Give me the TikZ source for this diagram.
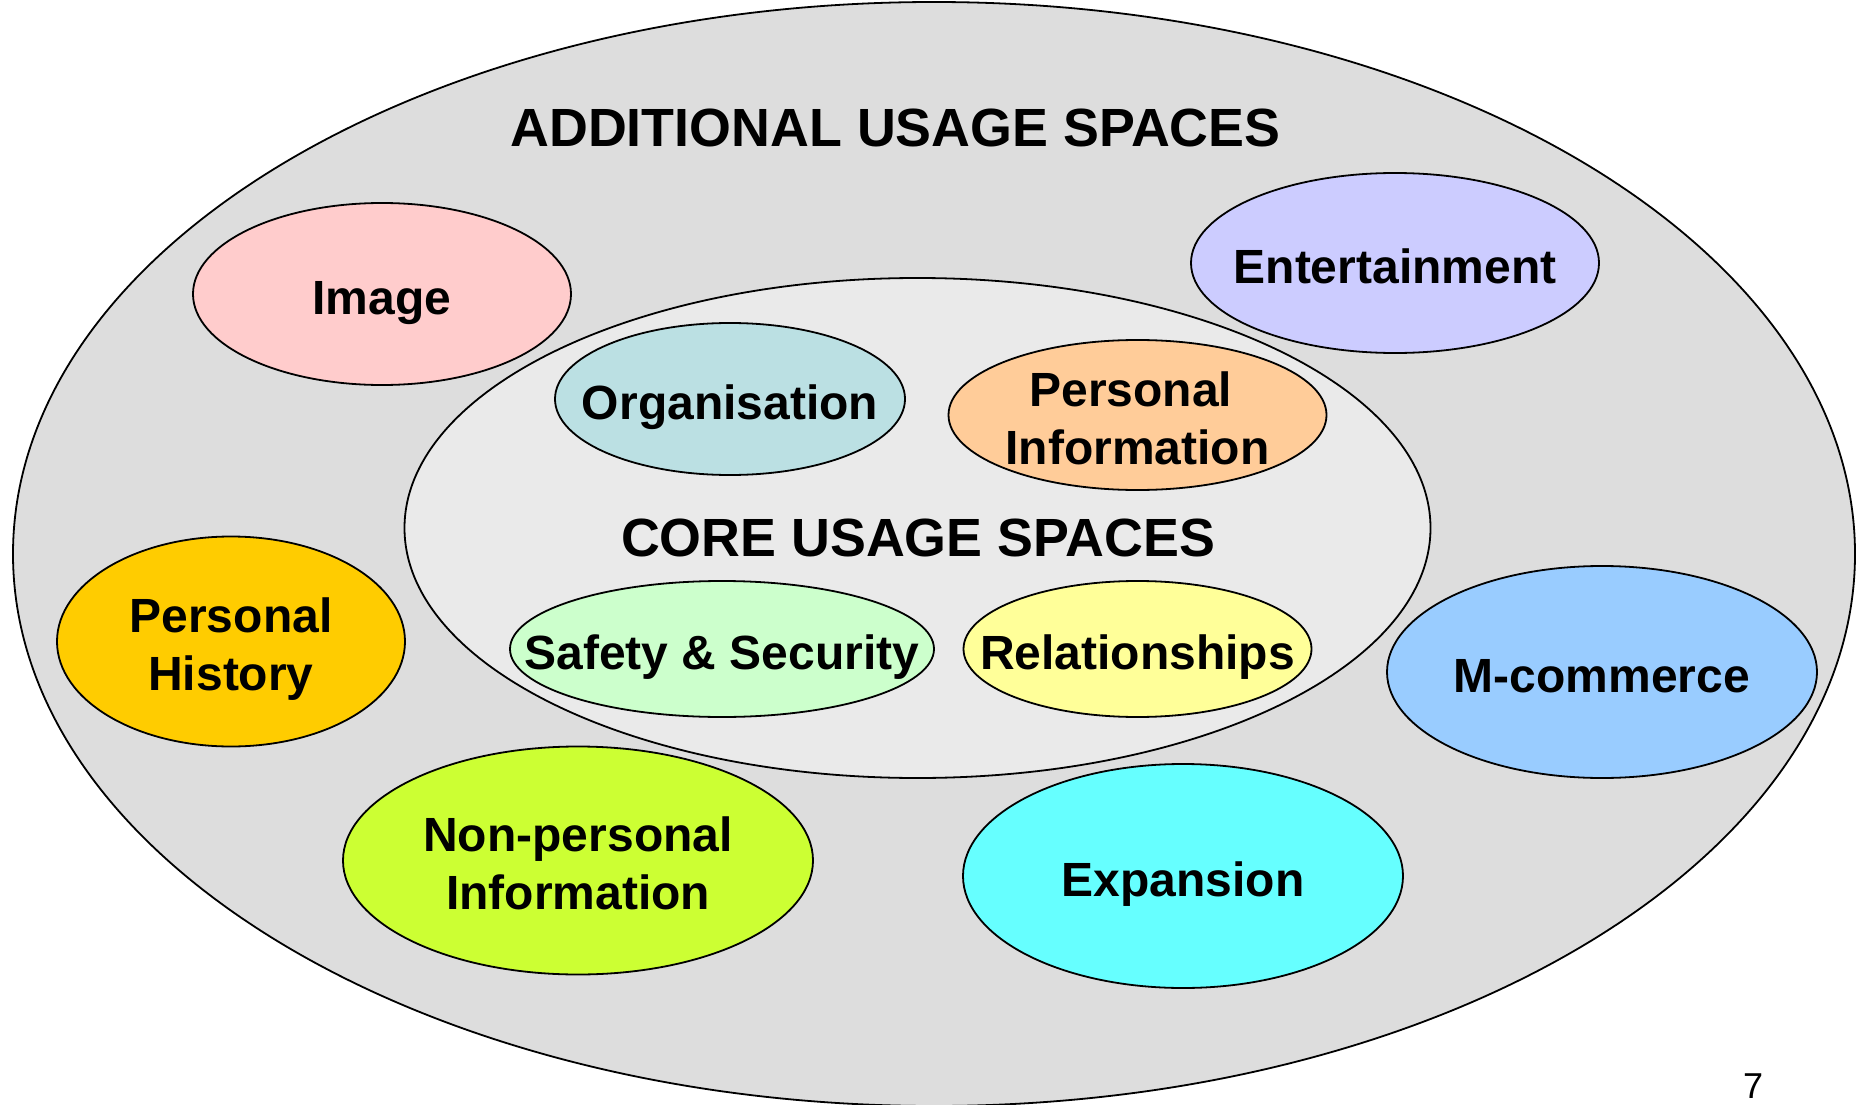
\documentclass[tikz,border=0pt]{standalone}
\usepackage{fontspec}
\setmainfont{Liberation Sans}
\usetikzlibrary{shapes.geometric}
\definecolor{outerfill}{HTML}{DDDDDD}
\definecolor{corefill}{HTML}{EAEAEA}
\definecolor{imagefill}{HTML}{FFCCCC}
\definecolor{entfill}{HTML}{CCCCFF}
\definecolor{orgfill}{HTML}{BBE0E3}
\definecolor{pinfofill}{HTML}{FFCC99}
\definecolor{safefill}{HTML}{CCFFCC}
\definecolor{relfill}{HTML}{FFFF99}
\definecolor{histfill}{HTML}{FFCC00}
\definecolor{mcomfill}{HTML}{99CCFF}
\definecolor{npinfofill}{HTML}{CCFF33}
\definecolor{expfill}{HTML}{66FFFF}
\begin{document}
\begin{tikzpicture}[x=1pt,y=-1pt,
  space/.style={ellipse,draw=black,line width=1.8pt,inner sep=0pt},
  blob/.style={ellipse,draw=black,line width=1.8pt,inner sep=0pt},
  spacetitle/.style={font=\fontsize{53.8}{64}\selectfont\bfseries,anchor=base,inner sep=0pt},
  lbl/.style={font=\fontsize{48}{58}\selectfont\bfseries,align=center,inner sep=0pt,
              text height=40pt,text depth=0pt},
  lbltwo/.style={lbl,text height=98pt,text depth=0pt}]
\useasboundingbox (0,0) rectangle (1856,1105);

% the two nested usage spaces
\node[space,fill=outerfill,minimum width=1842pt,minimum height=1104pt] (outer) at (934,554) {};
\node[space,fill=corefill,minimum width=1026pt,minimum height=500pt] (core) at (917.5,528) {};

\node[spacetitle] (outertitle) at (895.5,146.5) {ADDITIONAL USAGE SPACES};
\node[spacetitle] (coretitle) at (918,556) {CORE USAGE SPACES};

% core usage spaces
\node[blob,fill=orgfill,minimum width=350pt,minimum height=152pt] (org) at (730,399) {};
\node[blob,fill=pinfofill,minimum width=378pt,minimum height=150pt] (pinfo) at (1137.5,415) {};
\node[blob,fill=safefill,minimum width=424pt,minimum height=136pt] (safe) at (722,649) {};
\node[blob,fill=relfill,minimum width=348pt,minimum height=136pt] (rel) at (1137.5,649) {};

% additional usage spaces
\node[blob,fill=imagefill,minimum width=378pt,minimum height=182pt] (image) at (382,294) {};
\node[blob,fill=entfill,minimum width=408pt,minimum height=180pt] (ent) at (1395,263) {};
\node[blob,fill=histfill,minimum width=348pt,minimum height=210pt] (hist) at (231,641.5) {};
\node[blob,fill=mcomfill,minimum width=430pt,minimum height=212pt] (mcom) at (1602,672) {};
\node[blob,fill=npinfofill,minimum width=470pt,minimum height=228pt] (npinfo) at (578,860.5) {};
\node[blob,fill=expfill,minimum width=440pt,minimum height=224pt] (exp) at (1183,876) {};

% labels
\node[lbl] (orgl) at (org) {Organisation};
\node[lbltwo] (pinfol) at (pinfo) {Personal\hspace*{0.278em}\\Information};
\node[lbl] (safel) at (safe) {Safety \& Security};
\node[lbl] (rell) at (rel) {Relationships};
\node[lbl] (imagel) at (image) {Image};
\node[lbl] (entl) at (ent) {Entertainment};
\node[lbltwo] (histl) at (hist) {Personal\\History};
\node[lbl] (mcoml) at (mcom) {M-commerce};
\node[lbltwo] (npinfol) at (npinfo) {Non-personal\\Information};
\node[lbl] (expl) at (exp) {Expansion};

% page number
\node[font=\fontsize{36}{43}\selectfont,anchor=base,inner sep=0pt] (pagenum) at (1753,1098) {7};
\end{tikzpicture}
\end{document}
